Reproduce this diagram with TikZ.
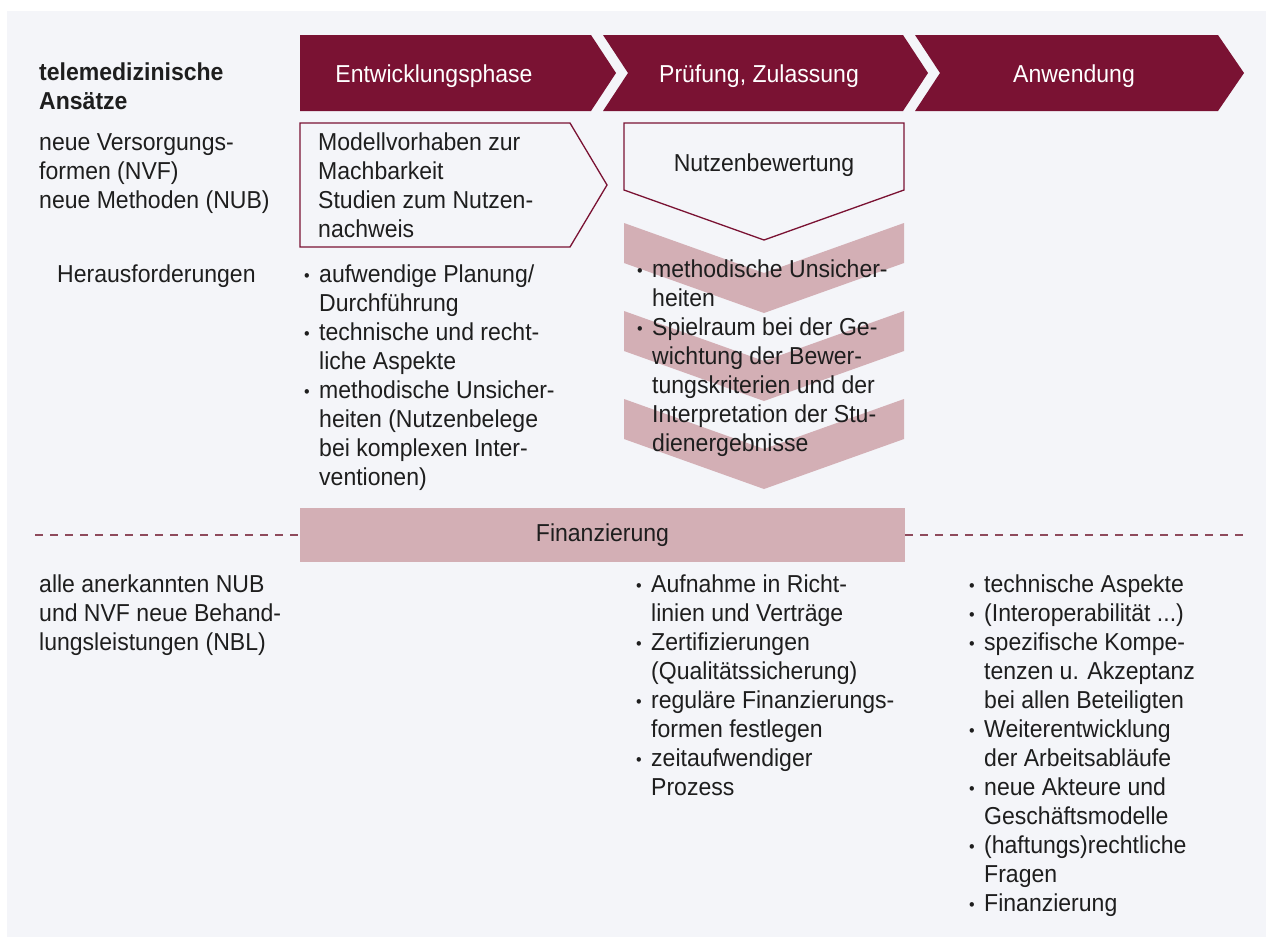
\documentclass[tikz,border=0pt]{standalone}
\usepackage{graphicx}
\usepackage{fontspec}
\setmainfont{Liberation Sans}[FakeStretch=0.94]
\usetikzlibrary{positioning}
\definecolor{weinrot}{HTML}{7A1233}
\definecolor{rosa}{HTML}{D3AFB5}
\definecolor{grund}{HTML}{F4F5F9}
\definecolor{schrift}{HTML}{1E1E1E}
\definecolor{strich}{HTML}{8E4A5C}
\newcommand{\pkt}{\makebox[15pt][l]{\raisebox{0.5pt}{\fontsize{17}{17}\selectfont\textbullet}}}
\newcommand{\einr}{\hspace*{15pt}}
\newcommand{\zeilen}[1]{\parbox[t]{330pt}{\raggedright #1}}
\tikzset{
	txt/.style={font=\fontsize{24.5}{29}\selectfont, text=schrift, inner sep=0pt, anchor=base west},
	kopf/.style={font=\fontsize{24.5}{29}\selectfont, text=white, inner sep=0pt, anchor=base},
	rahmen/.style={draw=weinrot, line width=1.3pt, fill=grund, line join=miter},
	balken/.style={fill=rosa, minimum width=605pt, minimum height=54pt, inner sep=0pt,
		font=\fontsize{24.5}{29}\selectfont, text=schrift},
	trenn/.style={draw=strich, line width=1.8pt, dash pattern=on 8pt off 7pt},
}

\begin{document}
\begin{tikzpicture}[x=1pt, y=-1pt]
	\useasboundingbox (0,0) rectangle (1266,937);
	\fill[white] (0,0) rectangle (1266,937);
	\fill[grund] (7,11) rectangle (1266,937);
	% Phasen
	\fill[weinrot] (300,35) -- (591,35) -- (616,73) -- (591,111) -- (300,111) -- cycle;
	\fill[weinrot] (603,35) -- (903,35) -- (928,73) -- (903,111) -- (603,111) -- (628,73) -- cycle;
	\fill[weinrot] (915,35) -- (1218,35) -- (1244,73) -- (1218,111) -- (915,111) -- (940,73) -- cycle;
	\node[kopf] (entw) at (434,82) {Entwicklungsphase};
	\node[kopf] (pruef) at (759,82) {Prüfung, Zulassung};
	\node[kopf] (anw) at (1074,82) {Anwendung};
	% Kaesten
	\draw[rahmen] (300,123) -- (570,123) -- (607,185) -- (570,247) -- (300,247) -- cycle;
	\draw[rahmen] (624,123) -- (904,123) -- (904,190) -- (764,240) -- (624,190) -- cycle;
	\foreach \t in {223,311,399}
		\fill[rosa] (624,\t) -- (764,\t+50) -- (904,\t) -- (904,\t+40) -- (764,\t+90) -- (624,\t+40) -- cycle;
	\node[balken] (fin) at (602.5,535) {Finanzierung};
	\coordinate (links) at (35,535);
	\coordinate (rechts) at (1245,535);
	\draw[trenn] (links) -- (fin.west);
	\draw[trenn] (fin.east) -- (rechts);
	% Texte
	\node[txt, font=\fontsize{24.5}{29}\selectfont\bfseries] (ansatz) at (39,80) {\zeilen{telemedizinische\\Ansätze}};
	\node[txt] (neu) at (39,150) {\zeilen{neue Versorgungs-\\formen (NVF)\\neue Methoden (NUB)}};
	\node[txt] (modell) at (318,150) {\zeilen{Modellvorhaben zur\\Machbarkeit\\Studien zum Nutzen-\\nachweis}};
	\node[kopf, text=schrift] (nutzen) at (764,171) {Nutzenbewertung};
	\node[txt] (heraus) at (57,282) {Herausforderungen};
	\node[txt] (herentw) at (304,282) {\zeilen{\pkt aufwendige Planung/\\\einr Durchführung\\\pkt technische und recht-\\\einr liche Aspekte\\\pkt methodische Unsicher-\\\einr heiten (Nutzenbelege\\\einr bei komplexen Inter-\\\einr ventionen)}};
	\node[txt] (herpruef) at (637,277) {\zeilen{\pkt methodische Unsicher-\\\einr heiten\\\pkt Spielraum bei der Ge-\\\einr wichtung der Bewer-\\\einr tungskriterien und der\\\einr Interpretation der Stu-\\\einr dienergebnisse}};
	\node[txt] (alle) at (39,592) {\zeilen{alle anerkannten NUB\\und NVF neue Behand-\\lungsleistungen (NBL)}};
	\node[txt] (finpruef) at (636,592) {\zeilen{\pkt Aufnahme in Richt-\\\einr linien und Verträge\\\pkt Zertifizierungen\\\einr (Qualitätssicherung)\\\pkt reguläre Finanzierungs-\\\einr formen festlegen\\\pkt zeitaufwendiger\\\einr Prozess}};
	\node[txt] (finanw) at (969,592) {\zeilen{\pkt technische Aspekte\\\pkt (Interoperabilität ...)\\\pkt spezifische Kompe-\\\einr tenzen u. Akzeptanz\\\einr bei allen Beteiligten\\\pkt Weiterentwicklung\\\einr der Arbeitsabläufe\\\pkt neue Akteure und\\\einr Geschäftsmodelle\\\pkt (haftungs)rechtliche\\\einr Fragen\\\pkt Finanzierung}};
\end{tikzpicture}
\end{document}
